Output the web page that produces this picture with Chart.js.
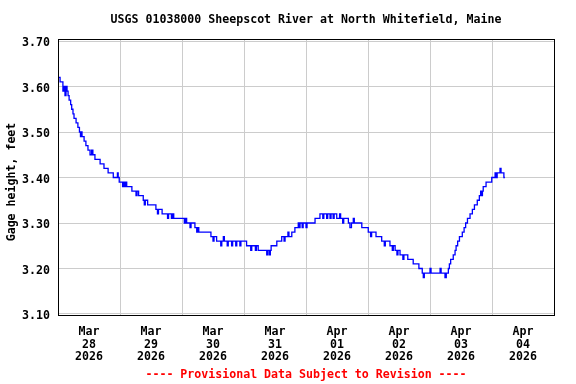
<!DOCTYPE html>
<html>
<head>
<meta charset="utf-8">
<script src="https://cdn.jsdelivr.net/npm/chart.js@4.4.1/dist/chart.umd.min.js"></script>
<style>
  html, body { margin: 0; padding: 0; background: #fff; }
  canvas { display: block; }
</style>
</head>
<body>
<canvas id="gage" width="576" height="384"></canvas>
<script>
// DATA - hours since Mar 28 2026 00:00, gage height (feet), step changes
const hours = [
  0.0, 0.8, 1.9, 2.3, 2.7, 3.1, 3.5, 3.9, 4.3, 4.9, 5.3, 5.8, 6.2, 7.0, 7.7,
  8.3, 8.7, 9.0, 9.3, 10.1, 10.8, 11.6, 12.4, 13.0, 13.5, 14.3, 16.3, 17.8, 19.4, 21.4,
  23.0, 23.3, 23.7, 25.0, 25.4, 25.8, 26.2, 26.6, 28.6, 30.2, 30.6, 31.2, 33.0, 33.4, 33.8,
  34.7, 37.9, 38.5, 38.9, 40.3, 42.4, 42.8, 43.9, 44.3, 44.8, 48.9, 49.3, 49.8, 51.1, 51.5,
  53.0, 53.7, 54.1, 54.5, 59.2, 60.0, 60.4, 61.4, 63.0, 63.4, 64.0, 64.4, 65.5, 65.9, 67.2,
  67.6, 68.8, 69.2, 70.4, 70.8, 73.0, 74.6, 75.0, 76.4, 76.8, 77.5, 80.8, 81.2, 81.8, 82.2,
  82.5, 84.7, 86.6, 87.5, 87.9, 89.0, 89.4, 90.5, 91.7, 93.0, 93.4, 93.7, 94.5, 94.9, 96.0,
  96.4, 99.5, 101.4, 102.5, 102.9, 104.0, 104.4, 105.3, 105.7, 106.5, 106.9, 107.9, 109.0, 109.4, 110.2,
  110.6, 112.4, 113.0, 113.6, 114.3, 114.7, 117.6, 120.1, 121.0, 121.4, 123.1, 125.3, 126.3, 126.7, 128.5,
  129.4, 129.8, 130.5, 131.2, 131.6, 132.4, 133.5, 133.9, 135.4, 137.5, 139.7, 141.0, 141.4, 141.8, 144.0,
  144.4, 147.9, 148.3, 149.8, 150.3, 151.1, 151.5, 152.0, 153.0, 153.7, 154.1, 154.7, 155.4, 156.5, 157.2,
  157.8, 158.5, 159.5, 160.4, 161.2, 162.3, 163.1, 163.6, 164.0, 164.3, 164.6, 165.7, 167.9, 169.2, 169.6,
  170.0, 171.1, 171.5, 172.6, 173.0,
];
const gage = [
  3.62, 3.61, 3.59, 3.60, 3.58, 3.60, 3.59, 3.58, 3.57, 3.56, 3.55, 3.54, 3.53, 3.52, 3.51,
  3.50, 3.49, 3.50, 3.49, 3.48, 3.47, 3.46, 3.45, 3.46, 3.45, 3.44, 3.43, 3.42, 3.41, 3.40,
  3.41, 3.40, 3.39, 3.38, 3.39, 3.38, 3.39, 3.38, 3.37, 3.36, 3.37, 3.36, 3.35, 3.34, 3.35,
  3.34, 3.33, 3.32, 3.33, 3.32, 3.31, 3.32, 3.31, 3.32, 3.31, 3.30, 3.31, 3.30, 3.29, 3.30,
  3.29, 3.28, 3.29, 3.28, 3.27, 3.26, 3.27, 3.26, 3.25, 3.26, 3.27, 3.26, 3.25, 3.26, 3.25,
  3.26, 3.25, 3.26, 3.25, 3.26, 3.25, 3.24, 3.25, 3.24, 3.25, 3.24, 3.23, 3.24, 3.23, 3.24,
  3.25, 3.26, 3.27, 3.26, 3.27, 3.28, 3.27, 3.28, 3.29, 3.30, 3.29, 3.30, 3.29, 3.30, 3.29,
  3.30, 3.31, 3.32, 3.31, 3.32, 3.31, 3.32, 3.31, 3.32, 3.31, 3.32, 3.31, 3.32, 3.31, 3.30,
  3.31, 3.30, 3.29, 3.30, 3.31, 3.30, 3.29, 3.28, 3.27, 3.28, 3.27, 3.26, 3.25, 3.26, 3.25,
  3.24, 3.25, 3.24, 3.23, 3.24, 3.23, 3.22, 3.23, 3.22, 3.21, 3.20, 3.19, 3.18, 3.19, 3.20,
  3.19, 3.20, 3.19, 3.18, 3.19, 3.20, 3.21, 3.22, 3.23, 3.24, 3.25, 3.26, 3.27, 3.28, 3.29,
  3.30, 3.31, 3.32, 3.33, 3.34, 3.35, 3.36, 3.37, 3.36, 3.37, 3.38, 3.39, 3.40, 3.41, 3.40,
  3.41, 3.42, 3.41, 3.40, 3.40,
];
const yTicks = [3.1, 3.2, 3.3, 3.4, 3.5, 3.6, 3.7];
const xTicks = [0, 12, 24, 36, 48, 60, 72, 84, 96, 108, 120, 132, 144, 156, 168, 180, 192];
const dayLabels = [
  ["Mar", "28", "2026"], ["Mar", "29", "2026"], ["Mar", "30", "2026"], ["Mar", "31", "2026"],
  ["Apr", "01", "2026"], ["Apr", "02", "2026"], ["Apr", "03", "2026"], ["Apr", "04", "2026"],
];
const chartTitle = "USGS 01038000 Sheepscot River at North Whitefield, Maine";
const yTitle = "Gage height, feet";
const footNote = "---- Provisional Data Subject to Revision ----";

const MONO = "'DejaVu Sans Mono', 'Liberation Mono', monospace";
const GRID = "#cccccc";

// frame round the plot + title, y title, footer
const decor = {
  id: "decor",
  afterDraw(chart) {
    const { ctx, chartArea: a } = chart;
    const cx = (a.left + a.right) / 2;
    ctx.save();
    ctx.strokeStyle = "#000";
    ctx.lineWidth = 1;
    ctx.strokeRect(a.left + 0.5, a.top + 0.5, a.right - a.left, a.bottom - a.top);

    ctx.font = "bold 11.6px " + MONO;
    ctx.textAlign = "center";
    ctx.textBaseline = "middle";
    ctx.fillStyle = "#000";
    ctx.fillText(chartTitle, cx, 20);

    ctx.fillStyle = "#ff0000";
    ctx.fillText(footNote, cx, 375);

    ctx.fillStyle = "#000";
    ctx.translate(12, 182);
    ctx.rotate(-Math.PI / 2);
    ctx.fillText(yTitle, 0, 0);
    ctx.restore();
  },
};

const tickFont = { family: MONO, size: 11.6, weight: "bold", lineHeight: 1.1 };

new Chart(document.getElementById("gage"), {
  type: "line",
  data: {
    datasets: [
      {
        data: hours.map((h, i) => ({ x: h, y: gage[i] })),
        borderColor: "#0000ff",
        borderWidth: 1.3,
        pointRadius: 0,
        stepped: true,
        fill: false,
      },
    ],
  },
  options: {
    responsive: false,
    animation: false,
    devicePixelRatio: 1,
    layout: { padding: { left: 0, top: 39, right: 22, bottom: 0 } },
    plugins: { legend: { display: false }, tooltip: { enabled: false } },
    scales: {
      x: {
        type: "linear",
        min: 0,
        max: 192,
        afterBuildTicks: (s) => { s.ticks = xTicks.map((v) => ({ value: v })); },
        afterFit: (s) => { s.height = 69; },
        grid: {
          color: (c) => (c.tick && c.tick.value % 24 === 0 && c.tick.value > 0 && c.tick.value < 192 ? GRID : "rgba(0,0,0,0)"),
          drawTicks: false,
        },
        border: { display: false },
        ticks: {
          autoSkip: false,
          maxRotation: 0,
          padding: 10,
          color: "#000",
          font: { ...tickFont, lineHeight: 1.12 },
          callback: (v) => (v % 24 === 12 ? dayLabels[(v - 12) / 24] : ""),
        },
      },
      y: {
        min: 3.0978,
        max: 3.7044,
        afterBuildTicks: (s) => { s.ticks = yTicks.map((v) => ({ value: v })); },
        afterFit: (s) => { s.width = 58; },
        grid: { color: GRID, drawTicks: false },
        border: { display: false },
        ticks: {
          padding: 8,
          labelOffset: 2,
          color: "#000",
          font: tickFont,
          callback: (v) => v.toFixed(2),
        },
      },
    },
  },
  plugins: [decor],
});
</script>
</body>
</html>
